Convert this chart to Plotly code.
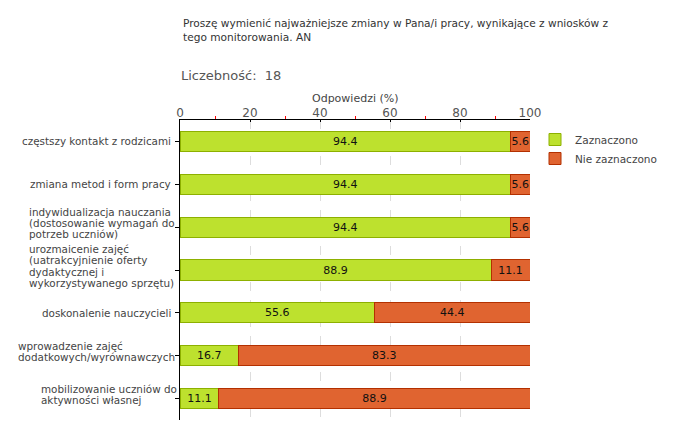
import plotly.graph_objects as go

categories = [
    "częstszy kontakt z rodzicami",
    "zmiana metod i form pracy",
    "indywidualizacja nauczania<br>(dostosowanie wymagań do<br>potrzeb uczniów)",
    "urozmaicenie zajęć<br>(uatrakcyjnienie oferty<br>dydaktycznej i<br>wykorzystywanego sprzętu)",
    "doskonalenie nauczycieli",
    "wprowadzenie zajęć<br>dodatkowych/wyrównawczych",
    "mobilizowanie uczniów do<br>aktywności własnej",
]
zaznaczono = [94.4, 94.4, 94.4, 88.9, 55.6, 16.7, 11.1]
nie_zaznaczono = [5.6, 5.6, 5.6, 11.1, 44.4, 83.3, 88.9]
series_names = ["Zaznaczono", "Nie zaznaczono"]
x_ticks = [0, 20, 40, 60, 80, 100]
minor_ticks = [10, 30, 50, 70, 90]

FONT = "DejaVu Sans"
L, R, T, B = 180, 150, 120, 20
W, H = 680, 440
PW, PH = W - L - R, H - T - B

def px_x(x):
    return (x - L) / PW

def px_y(y):
    return (H - B - y) / PH

# left edge (px) of multi-line label blocks, as in the reference
block_left = {2: 27, 3: 27, 5: 16, 6: 39}

fig = go.Figure()
fig.add_trace(go.Bar(
    y=categories, x=zaznaczono, orientation="h", name=series_names[0],
    marker=dict(color="#BDE12E", line=dict(color="#8DB000", width=1)),
    text=[f"{v:.1f}" for v in zaznaczono], textposition="inside",
    insidetextanchor="middle", textangle=0, constraintext="none",
    textfont=dict(family=FONT, size=11, color="#111"),
))
fig.add_trace(go.Bar(
    y=categories, x=nie_zaznaczono, orientation="h", name=series_names[1],
    marker=dict(color="#E06430", line=dict(color="#B33000", width=1)),
    text=[f"{v:.1f}" for v in nie_zaznaczono], textposition="inside",
    insidetextanchor="middle", textangle=0, constraintext="none",
    textfont=dict(family=FONT, size=11, color="#111"),
))

LINE_H = 11.3
for idx, c in enumerate(categories):
    lines = c.split("<br>")
    n = len(lines)
    for i, line in enumerate(lines):
        ys = ((n - 1) / 2 - i) * LINE_H + (4 if n > 1 else 0)
        if n == 1:
            fig.add_annotation(
                x=0, xref="paper", xshift=-7, y=c, yref="y", yshift=ys,
                text=line, showarrow=False, xanchor="right", yanchor="middle",
                font=dict(family=FONT, size=10.4, color="#444"),
            )
        else:
            fig.add_annotation(
                x=px_x(block_left[idx]), xref="paper", y=c, yref="y", yshift=ys,
                text=line, showarrow=False, xanchor="left", yanchor="middle",
                font=dict(family=FONT, size=10.4, color="#444"),
            )

fig.add_annotation(
    x=px_x(181), y=px_y(15), xref="paper", yref="paper", showarrow=False,
    text="Proszę wymienić najważniejsze zmiany w Pana/i pracy, wynikające z wniosków z<br>tego monitorowania. AN",
    xanchor="left", yanchor="top", align="left",
    font=dict(family=FONT, size=10.6, color="#333"),
)
fig.add_annotation(
    x=px_x(179), y=px_y(66), xref="paper", yref="paper", showarrow=False,
    text="Liczebność:  18", xanchor="left", yanchor="top", align="left",
    font=dict(family=FONT, size=13, color="#555"),
)
fig.add_annotation(
    x=0.5, y=px_y(98), xref="paper", yref="paper", showarrow=False,
    text="Odpowiedzi (%)", xanchor="center", yanchor="middle",
    font=dict(family=FONT, size=11, color="#444"),
)

fig.update_layout(
    width=W, height=H,
    margin=dict(l=L, r=R, t=T, b=B, autoexpand=False),
    paper_bgcolor="white", plot_bgcolor="white",
    barmode="stack", bargap=0.53,
    font=dict(family=FONT, size=11, color="#444"),
    showlegend=True,
    legend=dict(x=px_x(535), y=px_y(125), xanchor="left", yanchor="top",
                traceorder="normal",
                font=dict(family=FONT, size=10.5, color="#444"),
                itemwidth=30, bgcolor="rgba(0,0,0,0)"),
    xaxis=dict(
        side="top", range=[0, 100], tickvals=x_ticks, automargin=False,
        showgrid=True, gridcolor="#DDDDDD", griddash="dash", gridwidth=1,
        showline=True, linecolor="black", linewidth=1,
        ticks="inside", ticklen=2, tickcolor="black",
        ticklabelstandoff=-3,
        tickfont=dict(family=FONT, size=12, color="#555"),
        zeroline=False,
        minor=dict(tickvals=minor_ticks, ticks="outside", ticklen=3,
                   tickcolor="red", showgrid=False),
    ),
    yaxis=dict(
        autorange="reversed", showticklabels=False, automargin=False,
        showline=True, linecolor="black", linewidth=1,
        ticks="outside", ticklen=4, tickcolor="black", showgrid=False,
    ),
)

fig.write_html("out.html", config={"displayModeBar": False},
               post_script="document.body.style.margin='0';document.body.style.padding='0';")
